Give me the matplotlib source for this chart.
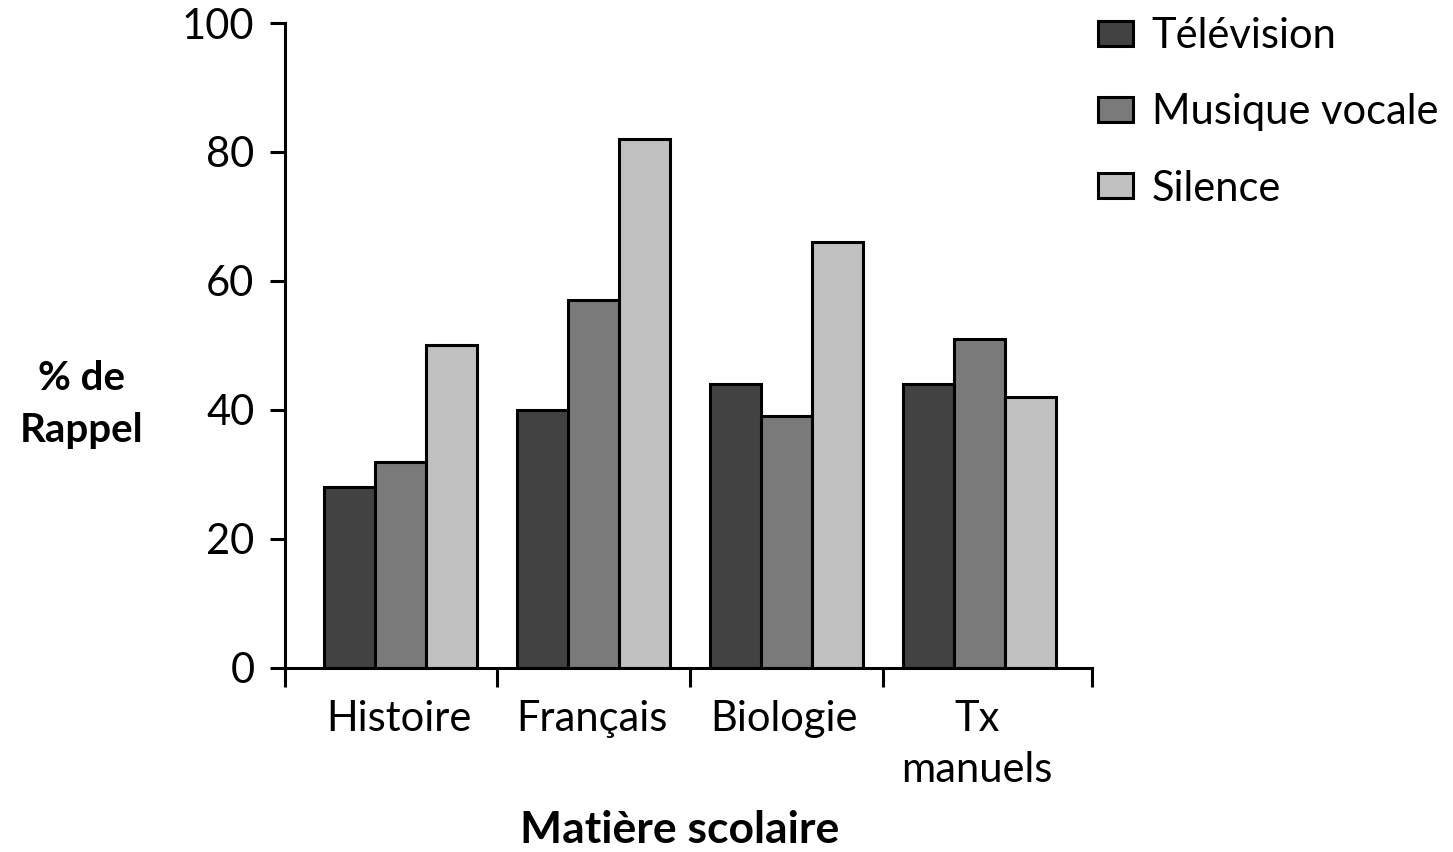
import matplotlib
matplotlib.use("Agg")
import matplotlib.pyplot as plt
import numpy as np

plt.rcParams['font.family'] = ['Lato', 'DejaVu Sans']

matieres = ["Histoire", "Français", "Biologie", "Tx\nmanuels"]
conditions = ["Télévision", "Musique vocale", "Silence"]
television = [28, 40, 44, 44]
musique_vocale = [32, 57, 39, 51]
silence = [50, 82, 66, 42]
couleurs = ["#424242", "#7a7a7a", "#c0c0c0"]

fig = plt.figure(figsize=(14.53, 8.52), dpi=100)
ax = fig.add_axes([0.1961, 0.2160, 0.5554, 0.7570])

x = np.arange(len(matieres))
w = 0.265
series = [television, musique_vocale, silence]
for i, (vals, lab, col) in enumerate(zip(series, conditions, couleurs)):
    ax.bar(x + (i - 1) * w, vals, width=w, color=col, edgecolor="black",
           linewidth=2.2, label=lab, zorder=2)

ax.set_ylim(0, 100)
ax.set_xlim(-0.601, 3.585)
ax.set_yticks([0, 20, 40, 60, 80, 100])
ax.set_xticks([-0.601, 0.5, 1.5, 2.5, 3.585])
ax.set_xticklabels([])

for side in ["top", "right"]:
    ax.spines[side].set_visible(False)
for side in ["left", "bottom"]:
    ax.spines[side].set_linewidth(2.2)

ax.tick_params(axis="y", direction="out", length=11, width=2.2, pad=11,
               labelsize=30, colors="black")
ax.tick_params(axis="x", direction="out", length=14, width=2.2)

# category names under each group
for xi, nom in zip(x, matieres):
    ax.text(xi - 0.01, -5.0, nom, ha="center", va="top", fontsize=30,
            linespacing=1.4, transform=ax.transData, clip_on=False)

fig.text(82 / 1453, 1 - 405 / 852, "% de\nRappel", ha="center", va="center",
         fontsize=29, fontweight="bold", linespacing=1.5)
fig.text(680 / 1453, 1 - 830 / 852, "Matière scolaire", ha="center",
         va="center", fontsize=32, fontweight="bold")

fig.legend(loc="upper left", bbox_to_anchor=(1098 / 1453, 1 - 17 / 852),
           frameon=False, borderpad=0, borderaxespad=0,
           handlelength=0.84, handleheight=0.55, handletextpad=0.45,
           labelspacing=0.92, prop={"size": 30})

fig.savefig("out.png", dpi=100)
